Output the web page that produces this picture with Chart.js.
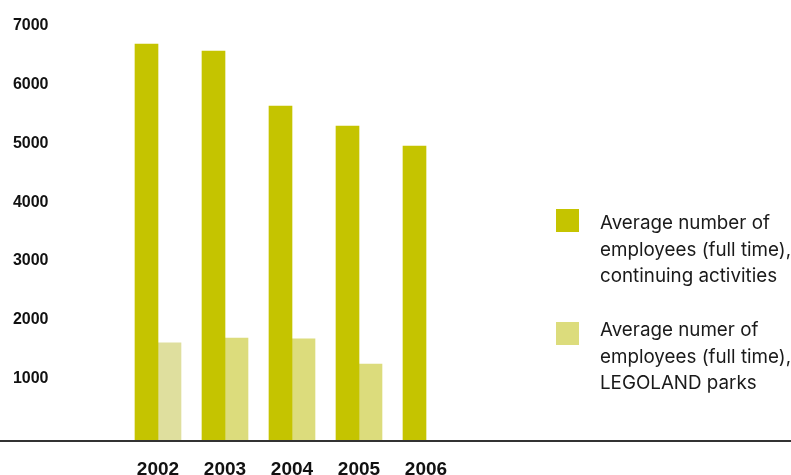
<!DOCTYPE html>
<html>
<head>
<meta charset="utf-8">
<script src="https://cdn.jsdelivr.net/npm/chart.js@4/dist/chart.umd.min.js"></script>
<style>
  html, body { margin: 0; padding: 0; background: #fff; }
  #wrap { position: relative; width: 791px; height: 475px; }
  #legend { position: absolute; left: 0; top: 0; font-family: Inter, sans-serif; font-size: 18.8px; line-height: 26.5px; color: #1a1a1a; }
  .item { position: absolute; left: 556px; width: 235px; }
  .sw { position: absolute; left: 0; width: 23px; height: 23px; }
  .txt { position: absolute; left: 44px; white-space: nowrap; }
</style>
</head>
<body>
<div id="wrap">
  <canvas id="employeesChart" width="791" height="475"></canvas>
  <div id="legend"></div>
</div>
<script>
// Medarbejdere pr. år
const years = ['2002', '2003', '2004', '2005', '2006'];
const continuing = [6760, 6640, 5705, 5365, 5025];
const legoland = [1670, 1755, 1740, 1310, null];
const yTicks = [1000, 2000, 3000, 4000, 5000, 6000, 7000];

const seriesNames = [
  ['Average number of', 'employees (full time),', 'continuing activities'],
  ['Average numer of', 'employees (full time),', 'LEGOLAND parks']
];
const darkGreen = '#c5c400';
const lightGreen = '#dcdc7c';

// vandret linje langs hele bunden
const baseLine = {
  id: 'baseLine',
  afterDatasetsDraw(chart) {
    const y = chart.scales.y.getPixelForValue(0);
    const ctx = chart.ctx;
    ctx.save();
    ctx.strokeStyle = '#333';
    ctx.lineWidth = 2;
    ctx.beginPath();
    ctx.moveTo(0, y);
    ctx.lineTo(chart.width, y);
    ctx.stroke();
    ctx.restore();
  }
};

new Chart(document.getElementById('employeesChart'), {
  type: 'bar',
  data: {
    labels: years,
    datasets: [
      { label: seriesNames[0].join(' '), data: continuing, backgroundColor: darkGreen },
      { label: seriesNames[1].join(' '), data: legoland, backgroundColor: ['#dfdf9e', lightGreen, lightGreen, lightGreen, lightGreen] }
    ]
  },
  options: {
    responsive: false,
    animation: false,
    layout: { padding: { top: 30, right: 331.5, left: 0, bottom: 0 } },
    datasets: { bar: { barThickness: 23 } },
    scales: {
      x: {
        grid: { display: false },
        border: { display: false },
        ticks: { color: '#111', padding: 9, font: { family: 'Liberation Sans', weight: 'bold', size: 19 } },
        afterFit(scale) { scale.height = 34; }
      },
      y: {
        min: 0,
        max: 7000,
        grid: { display: false },
        border: { display: false },
        afterBuildTicks(scale) { scale.ticks = yTicks.map(v => ({ value: v })); },
        afterFit(scale) {
          scale.width = 124.5;
          // tick padding skal ikke give ekstra luft over/under
          scale.paddingTop = 0;
          scale.paddingBottom = 0;
        },
        ticks: {
          color: '#111',
          padding: 68,
          crossAlign: 'near',
          labelOffset: -4,
          callback: v => String(v),
          font: { family: 'Liberation Sans', weight: 'bold', size: 16 }
        }
      }
    },
    plugins: {
      legend: { display: false },
      tooltip: { enabled: false }
    }
  },
  plugins: [baseLine]
});

// forklaring til højre
const legendTops = [209, 322];
const legendColors = [darkGreen, lightGreen];
const legendEl = document.getElementById('legend');
seriesNames.forEach((lines, i) => {
  const item = document.createElement('div');
  item.className = 'item';
  item.style.top = legendTops[i] + 'px';
  item.innerHTML = '<div class="sw" style="top:0;background:' + legendColors[i] + '"></div>' +
    '<div class="txt" style="top:' + (i === 0 ? 1 : -5) + 'px">' + lines.join('<br>') + '</div>';
  legendEl.appendChild(item);
});
</script>
</body>
</html>
